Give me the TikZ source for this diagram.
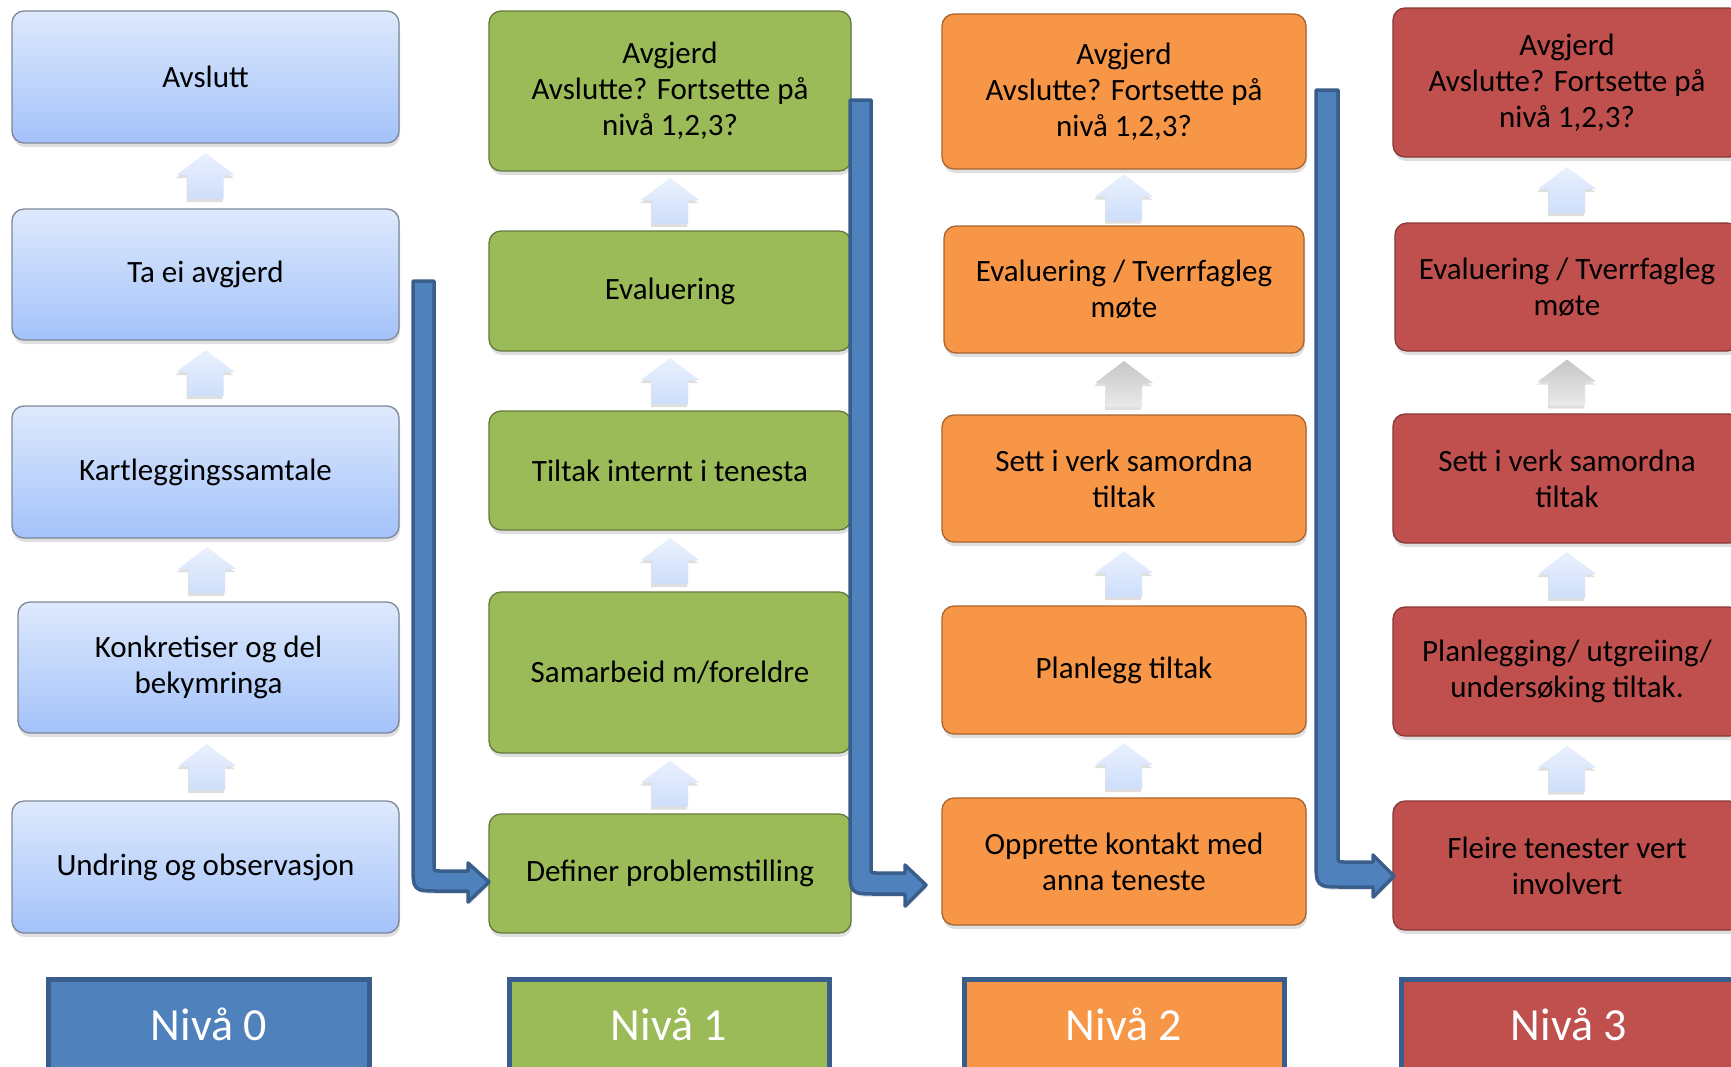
\documentclass[tikz,border=0pt]{standalone}
\usepackage{fontspec}
\setmainfont{Carlito}
\usetikzlibrary{shadows,calc}
\definecolor{bTop}{RGB}{222,233,252}
\definecolor{bBot}{RGB}{163,194,250}
\definecolor{bBorder}{RGB}{125,135,150}
\definecolor{gFill}{RGB}{155,187,89}
\definecolor{gBorder}{RGB}{100,120,62}
\definecolor{oFill}{RGB}{247,150,70}
\definecolor{oBorder}{RGB}{165,100,50}
\definecolor{rFill}{RGB}{192,80,77}
\definecolor{rBorder}{RGB}{135,55,53}
\definecolor{nBlue}{RGB}{79,129,189}
\definecolor{nBorder}{RGB}{58,94,139}
\definecolor{upTop}{RGB}{234,241,253}
\definecolor{upBot}{RGB}{206,222,251}
\definecolor{grTop}{RGB}{198,198,198}
\definecolor{grBot}{RGB}{234,234,234}
\begin{document}
\begin{tikzpicture}[x=1pt,y=-1pt,
  box/.style={rounded corners=12pt, line width=1.3pt, align=center, inner sep=0pt,
    font=\fontsize{31}{36}\selectfont,
    drop shadow={shadow xshift=1pt, shadow yshift=-4pt, opacity=0.25}},
  wh/.style 2 args={minimum width=#1pt, minimum height=#2pt},
  b0/.style={box, draw=bBorder, top color=bTop, bottom color=bBot},
  b1/.style={box, draw=gBorder, fill=gFill},
  b2/.style={box, draw=oBorder, fill=oFill},
  b3/.style={box, draw=rBorder, fill=rFill},
  upshape/.style={drop shadow={shadow xshift=-1pt, shadow yshift=-3pt, opacity=0.25}},
  upb/.pic={\path[upshape, top color=upTop, bottom color=upBot]
     (0,-23) -- (29,-1) -- (18,-1) -- (18,23) -- (-18,23) -- (-18,-1) -- (-29,-1) -- cycle;},
  upg/.pic={\path[upshape, top color=grTop, bottom color=grBot]
     (0,-23) -- (29,-1) -- (18,-1) -- (18,23) -- (-18,23) -- (-18,-1) -- (-29,-1) -- cycle;},
  bentarr/.style={draw=nBorder, fill=nBlue, line width=3.5pt, line join=round,
    drop shadow={shadow xshift=1pt, shadow yshift=-3pt, opacity=0.2}},
  labbox/.style={draw=nBorder, line width=5pt, inner sep=0pt, anchor=north},
  labtext/.style={text=white, font=\fontsize{46}{50}\selectfont, anchor=base, inner sep=0pt}
]
\useasboundingbox (0,0) rectangle (1731,1066);
\clip (0,0) rectangle (1731,1066);
\fill[white] (0,0) rectangle (1731,1066);

% Column 0
\node[b0, wh={387}{132}] (avslutt) at (205.5,77) {Avslutt};
\node[b0, wh={387}{131}] (taei) at (205.5,274.5) {Ta ei avgjerd};
\node[b0, wh={387}{132}] (kart) at (205.5,472) {Kartleggingssamtale};
\node[b0, wh={381}{131}] (konk) at (208.5,667.5) {Konkretiser og del\\bekymringa};
\node[b0, wh={387}{132}] (undring) at (205.5,867) {Undring og observasjon};

% Column 1
\node[b1, wh={362}{160}] (avg1) at (670,91) {Avgjerd\\Avslutte? Fortsette på\\nivå 1,2,3?};
\node[b1, wh={362}{120}] (eval1) at (670,291) {Evaluering};
\node[b1, wh={362}{119}] (tiltak) at (670,470.5) {Tiltak internt i tenesta};
\node[b1, wh={362}{161}] (samarb) at (670,672.5) {Samarbeid m/foreldre};
\node[b1, wh={362}{119}] (definer) at (670,873.5) {Definer problemstilling};

% Column 2
\node[b2, wh={364}{155}] (avg2) at (1124,91.5) {Avgjerd\\Avslutte? Fortsette på\\nivå 1,2,3?};
\node[b2, wh={360}{127}] (eval2) at (1124,289.5) {Evaluering / Tverrfagleg\\møte};
\node[b2, wh={364}{127}] (sett2) at (1124,478.5) {Sett i verk samordna\\tiltak};
\node[b2, wh={364}{128}] (plan2) at (1124,670) {Planlegg tiltak};
\node[b2, wh={364}{127}] (opp2) at (1124,861.5) {Opprette kontakt med\\anna teneste};

% Column 3
\node[b3, wh={348}{149}] (avg3) at (1567,82.5) {Avgjerd\\Avslutte? Fortsette på\\nivå 1,2,3?};
\node[b3, wh={344}{128}] (eval3) at (1567,287) {Evaluering / Tverrfagleg\\møte};
\node[b3, wh={348}{129}] (sett3) at (1567,478.5) {Sett i verk samordna\\tiltak};
\node[b3, wh={348}{129}] (plan3) at (1567,671.5) {Planlegging/ utgreiing/\\undersøking tiltak.};
\node[b3, wh={348}{129}] (fleire) at (1567,865.5) {Fleire tenester vert\\involvert};

% Up arrows
\pic at ($(taei.north)!0.5!(avslutt.south)$) {upb};
\pic at ($(kart.north)!0.5!(taei.south)$) {upb};
\pic at ($(konk.north)!0.5!(kart.south)$) {upb};
\pic at ($(undring.north)!0.5!(konk.south)$) {upb};

\pic at ($(eval1.north)!0.5!(avg1.south)$) {upb};
\pic at ($(tiltak.north)!0.5!(eval1.south)$) {upb};
\pic at ($(samarb.north)!0.5!(tiltak.south)$) {upb};
\pic at ($(definer.north)!0.5!(samarb.south)$) {upb};

\pic at ($(eval2.north)!0.5!(avg2.south)$) {upb};
\pic at ($(sett2.north)!0.5!(eval2.south)$) {upg};
\pic at ($(plan2.north)!0.5!(sett2.south)$) {upb};
\pic at ($(opp2.north)!0.5!(plan2.south)$) {upb};

\pic at ($(eval3.north)!0.5!(avg3.south)$) {upb};
\pic at ($(sett3.north)!0.5!(eval3.south)$) {upg};
\pic at ($(plan3.north)!0.5!(sett3.south)$) {upb};
\pic at ($(fleire.north)!0.5!(plan3.south)$) {upb};

% Bent arrows between levels
\draw[bentarr] (413,281) -- (434,281) -- (434,865) .. controls (434,871) .. (440,871)
  -- (468,871) -- (468,863) -- (489,882) -- (468,902) -- (468,891) -- (440,891)
  .. controls (413,891) .. (413,864) -- cycle;
\draw[bentarr] (850,100) -- (871,100) -- (871,867) .. controls (871,873) .. (877,873)
  -- (905,873) -- (905,865) -- (926,885) -- (905,906) -- (905,894) -- (878,894)
  .. controls (850,894) .. (850,866) -- cycle;
\draw[bentarr] (1316,90) -- (1338,90) -- (1338,856) .. controls (1338,862) .. (1344,862)
  -- (1373,862) -- (1373,855) -- (1394,876) -- (1373,897) -- (1373,887) -- (1344,887)
  .. controls (1316,887) .. (1316,859) -- cycle;

% Level labels
\node[labbox, fill=nBlue, minimum width=321pt, minimum height=130pt] (lab0) at (209,977) {};
\node[labbox, fill=gFill, minimum width=320pt, minimum height=130pt] (lab1) at (669,977) {};
\node[labbox, fill=oFill, minimum width=320pt, minimum height=130pt] (lab2) at (1124,977) {};
\node[labbox, fill=rFill, minimum width=344pt, minimum height=130pt] (lab3) at (1573,977) {};
\node[labtext] (t0) at (209,1040) {Nivå 0};
\node[labtext] (t1) at (669,1040) {Nivå 1};
\node[labtext] (t2) at (1124,1040) {Nivå 2};
\node[labtext] (t3) at (1569,1040) {Nivå 3};
\end{tikzpicture}
\end{document}
